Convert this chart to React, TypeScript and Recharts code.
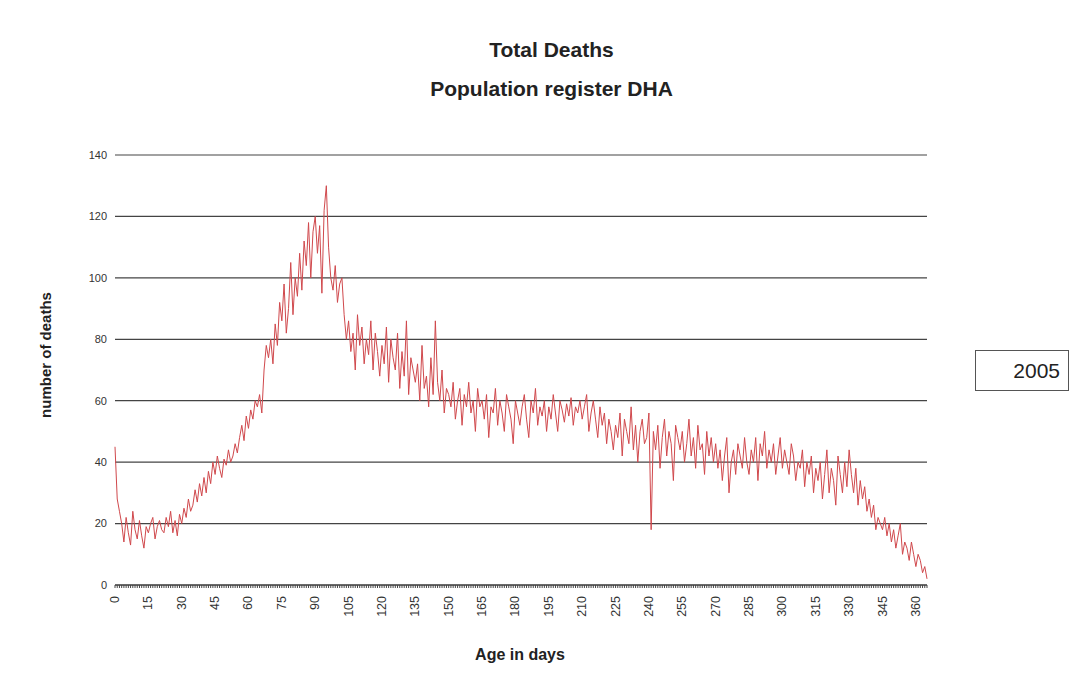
import { LineChart, Line, XAxis, YAxis, CartesianGrid } from "recharts";

// daily deaths, day 0..365
const deaths2005 = [
  45, 28, 24, 20, 14, 22, 17, 13, 24, 18, 15, 21, 16, 12, 19,
  17, 20, 22, 15, 19, 21, 18, 17, 22, 19, 24, 17, 21, 16, 23,
  20, 25, 22, 28, 24, 26, 31, 27, 33, 29, 35, 30, 37, 33, 40,
  36, 42, 38, 35, 41, 39, 44, 40, 42, 46, 43, 48, 52, 47, 55,
  51, 57, 54, 60, 58, 62, 56, 70, 78, 74, 80, 72, 85, 78, 92,
  86, 98, 82, 90, 105, 88, 100, 94, 108, 96, 112, 104, 118, 100, 115,
  120, 108, 117, 95, 122, 130, 110, 100, 96, 104, 92, 98, 100, 88, 80,
  86, 76, 82, 70, 88, 78, 84, 72, 80, 75, 86, 70, 82, 76, 68,
  78, 72, 84, 66, 80, 74, 70, 82, 64, 76, 68, 86, 62, 74, 70,
  66, 72, 60, 78, 64, 68, 58, 74, 62, 86, 66, 60, 70, 56, 64,
  62, 58, 66, 54, 60, 64, 52, 62, 58, 66, 56, 60, 50, 64, 58,
  60, 54, 62, 48, 58, 56, 64, 52, 60, 56, 50, 62, 58, 54, 46,
  60, 56, 52, 58, 62, 54, 48, 60, 56, 64, 52, 58, 55, 60, 50,
  58, 54, 62, 56, 50, 60, 57, 53, 59, 55, 61, 52, 58, 56, 60,
  54, 58, 62, 50, 56, 60, 54, 48, 58, 52, 56, 46, 54, 50, 44,
  52, 48, 56, 42, 54, 50, 46, 58, 44, 52, 40, 50, 54, 46, 48,
  56, 18, 50, 44, 52, 38, 48, 54, 42, 50, 46, 34, 52, 48, 44,
  50, 40, 46, 54, 42, 48, 38, 52, 44, 46, 36, 50, 42, 48, 40,
  46, 38, 44, 34, 42, 48, 30, 40, 44, 36, 46, 42, 38, 48, 40,
  36, 44, 40, 48, 34, 46, 42, 50, 38, 44, 40, 46, 36, 42, 48,
  38, 44, 40, 36, 46, 42, 34, 40, 38, 44, 32, 40, 36, 42, 30,
  38, 34, 40, 28, 36, 44, 30, 38, 34, 26, 42, 36, 30, 40, 32,
  44, 36, 30, 38, 26, 34, 28, 32, 24, 28, 22, 26, 18, 22, 20,
  18, 22, 16, 20, 14, 18, 12, 16, 20, 10, 14, 12, 8, 14, 10,
  6, 10, 8, 4, 6, 2,
];

const xLabels = [0, 15, 30, 45, 60, 75, 90, 105, 120, 135, 150, 165, 180, 195, 210, 225, 240, 255, 270, 285, 300, 315, 330, 345, 360];
const yTicks = [0, 20, 40, 60, 80, 100, 120, 140];
const dayTicks = deaths2005.map((_, i) => i);

const data = deaths2005.map((v, i) => ({ day: i, deaths: v }));

const FONT = "'Liberation Sans', Arial, sans-serif";

function DayTick(props: any) {
  const { x, y, payload } = props;
  if (!xLabels.includes(payload.value)) return null;
  return (
    <text
      x={x}
      y={y + 6}
      transform={`rotate(-90, ${x}, ${y + 6})`}
      textAnchor="end"
      dominantBaseline="central"
      fontSize={12.5}
      fill="#333"
      fontFamily={FONT}
    >
      {payload.value}
    </text>
  );
}

export default function App() {
  return (
    <div style={{ position: "absolute", left: 0, top: 0, width: 1083, height: 683, background: "#fff", fontFamily: FONT }}>
      <div style={{ position: "absolute", left: 0, width: 1103, top: 38, textAlign: "center", fontWeight: "bold", fontSize: 21, color: "#222" }}>
        Total Deaths
      </div>
      <div style={{ position: "absolute", left: 0, width: 1103, top: 77, textAlign: "center", fontWeight: "bold", fontSize: 21, color: "#222" }}>
        Population register DHA
      </div>
      <div
        style={{
          position: "absolute", left: 45, top: 355, transform: "translate(-50%, -50%) rotate(-90deg)",
          whiteSpace: "nowrap", fontWeight: "bold", fontSize: 15, color: "#222",
        }}
      >
        number of deaths
      </div>
      <div style={{ position: "absolute", left: 420, width: 200, top: 646, textAlign: "center", fontWeight: "bold", fontSize: 16, color: "#222" }}>
        Age in days
      </div>
      <div
        style={{
          position: "absolute", left: 975, top: 350, width: 94, height: 41, border: "1px solid #555",
          boxSizing: "border-box", textAlign: "right", paddingRight: 8, lineHeight: "39px", fontSize: 21, color: "#222",
        }}
      >
        2005
      </div>
      <LineChart width={1083} height={683} data={data} margin={{ top: 155, right: 156, bottom: 38, left: 55 }} style={{ position: "absolute", left: 0, top: 0 }}>
        <CartesianGrid vertical={false} stroke="#444" strokeWidth={1.2} />
        <XAxis
          dataKey="day"
          type="number"
          domain={[0, 365]}
          ticks={dayTicks}
          interval={0}
          tick={<DayTick />}
          tickSize={3}
          height={60}
          stroke="#333"
          tickLine={{ stroke: "#444" }}
        />
        <YAxis
          domain={[0, 140]}
          ticks={yTicks}
          width={60}
          axisLine={false}
          tickLine={false}
          tick={{ fontSize: 11, fill: "#333", fontFamily: FONT }}
        />
        <Line
          dataKey="deaths"
          type="linear"
          stroke="#d0484c"
          strokeWidth={1}
          dot={false}
          isAnimationActive={false}
        />
      </LineChart>
    </div>
  );
}
